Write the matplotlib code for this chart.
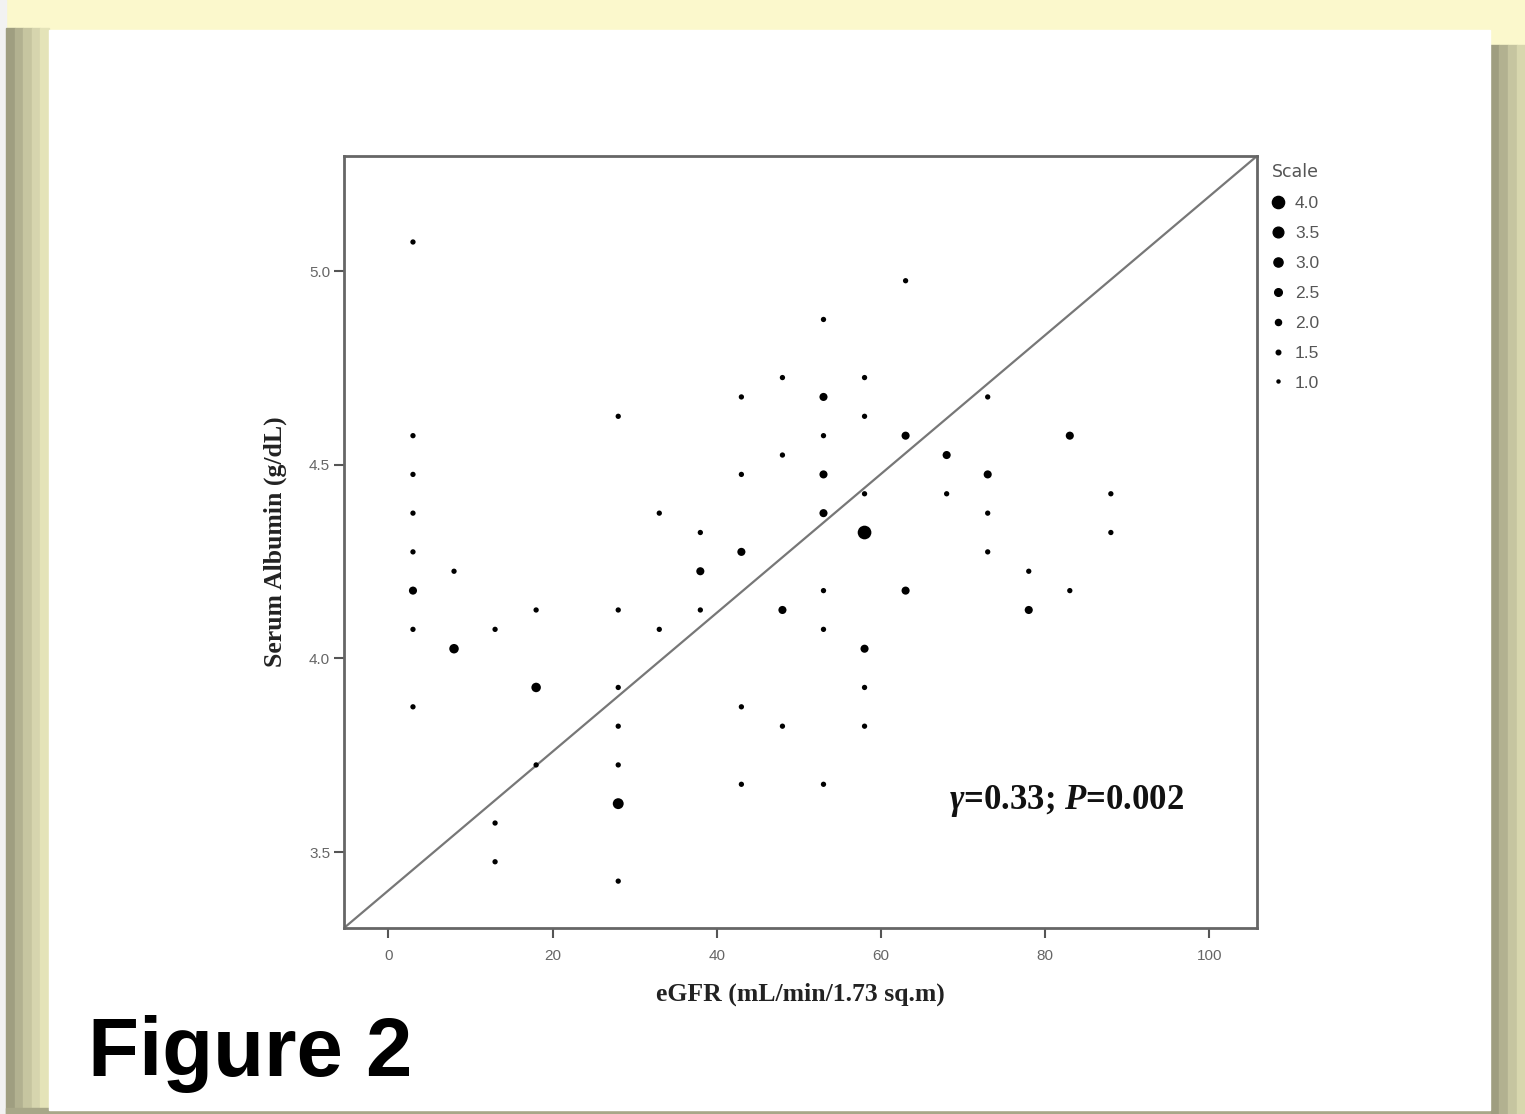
import matplotlib
matplotlib.use("Agg")
import matplotlib.pyplot as plt
from matplotlib.patches import Rectangle
from matplotlib.lines import Line2D

# eGFR (x), serum albumin (y), scale (count) for each dot
egfr = [3, 3, 3, 3, 3, 3, 3, 3,
        8, 8,
        13, 13, 13,
        18, 18, 18,
        28, 28, 28, 28, 28, 28, 28,
        33, 33,
        38, 38, 38,
        43, 43, 43, 43, 43,
        48, 48, 48, 48,
        53, 53, 53, 53, 53, 53, 53, 53,
        58, 58, 58, 58, 58, 58, 58,
        63, 63, 63,
        68, 68,
        73, 73, 73, 73,
        78, 78,
        83, 83,
        88, 88]
albumin = [5.075, 4.575, 4.475, 4.375, 4.275, 4.175, 4.075, 3.875,
           4.225, 4.025,
           4.075, 3.575, 3.475,
           4.125, 3.925, 3.725,
           4.625, 4.125, 3.925, 3.825, 3.725, 3.625, 3.425,
           4.375, 4.075,
           4.325, 4.225, 4.125,
           4.675, 4.475, 4.275, 3.875, 3.675,
           4.725, 4.525, 4.125, 3.825,
           4.875, 4.675, 4.575, 4.475, 4.375, 4.175, 4.075, 3.675,
           4.725, 4.625, 4.425, 4.325, 4.025, 3.925, 3.825,
           4.975, 4.575, 4.175,
           4.525, 4.425,
           4.675, 4.475, 4.375, 4.275,
           4.225, 4.125,
           4.575, 4.175,
           4.425, 4.325]
scale = [1, 1, 1, 1, 1, 2, 1, 1,
         1, 2.5,
         1, 1, 1,
         1, 2.5, 1,
         1, 1, 1, 1, 1, 3, 1,
         1, 1,
         1, 2, 1,
         1, 1, 2, 1, 1,
         1, 1, 2, 1,
         1, 2, 1, 2, 2, 1, 1, 1,
         1, 1, 1, 4, 2, 1, 1,
         1, 2, 2,
         2, 1,
         1, 2, 1, 1,
         1, 2,
         2, 1,
         1, 1]
legend_scale = [4.0, 3.5, 3.0, 2.5, 2.0, 1.5, 1.0]

W, H = 1525, 1114
fig = plt.figure(figsize=(W / 100, H / 100), dpi=100)
fig.patch.set_facecolor("#fbf8cc")


def band(x0, x1, y0, y1, color):
    # rectangle given in pixel coords (top-left origin)
    fig.patches.append(Rectangle((x0 / W, 1 - y1 / H), (x1 - x0) / W, (y1 - y0) / H,
                                 transform=fig.transFigure, color=color, zorder=-5))


# frame around the white panel
band(0, 6, 0, H, "#f2f2f2")
for i, c in enumerate(["#9f9e80", "#b2b190", "#c6c5a0", "#d6d5ae", "#e4e3b8"]):
    band(6 + i * 8.6, 6 + (i + 1) * 8.6, 28, H, c)
for i, c in enumerate(["#9f9e80", "#b2b190", "#c6c5a0", "#d8d7ae"]):
    band(1490 + i * 9, 1490 + (i + 1) * 9, 45, H, c)
band(6, 1490, 1108, H, "#a8a788")
band(49, 1490, 30, 1110, "white")

ax = fig.add_axes([344 / W, 1 - 928 / H, (1257 - 344) / W, (928 - 156) / H])
ax.set_xlim(-5.4, 105.8)
ax.set_ylim(3.304, 5.297)

sizes = [((2.5 + 2.8 * s) * 0.72) ** 2 for s in scale]
ax.scatter(egfr, albumin, s=sizes, c="black", edgecolors="none", zorder=3)

# reference line corner to corner
ax.plot([0, 1], [0, 1], transform=ax.transAxes, color="#777777", lw=1.6, zorder=2)

for sp in ax.spines.values():
    sp.set_color("#666666")
    sp.set_linewidth(2)
ax.set_xticks([0, 20, 40, 60, 80, 100])
ax.set_yticks([3.5, 4.0, 4.5, 5.0])
ax.set_yticklabels(["3.5", "4.0", "4.5", "5.0"])
ax.tick_params(direction="out", length=7, width=1.5, color="#555555",
               labelcolor="#666666", labelsize=11)
ax.tick_params(axis="x", pad=8)
ax.tick_params(axis="y", pad=3)
for lab in ax.get_xticklabels() + ax.get_yticklabels():
    lab.set_family("Liberation Sans")

ax.set_xlabel("eGFR (mL/min/1.73 sq.m)", family="Liberation Serif", weight="bold",
              fontsize=18.5, color="#222222", labelpad=14)
ax.set_ylabel("Serum Albumin (g/dL)", family="Liberation Serif", weight="bold",
              fontsize=18.5, color="#222222", labelpad=16)

plt.rcParams["mathtext.fontset"] = "custom"
plt.rcParams["mathtext.it"] = "Liberation Serif:italic:bold"
plt.rcParams["mathtext.rm"] = "Liberation Serif:bold"
ax.text(0.663, 0.164, r"$\mathit{\gamma}$=0.33; $\mathit{P}$=0.002", transform=ax.transAxes,
        family="Liberation Serif", weight="bold", fontsize=25, va="center", ha="left",
        color="#111111")

# size legend
handles = [Line2D([], [], ls="none", marker="o", color="black",
                  markersize=2.2 * v) for v in legend_scale]
leg = ax.legend(handles, ["%.1f" % v for v in legend_scale], title="Scale",
                loc="upper left", bbox_to_anchor=(1.014, 0.993), frameon=False,
                handlelength=0.8, handletextpad=0.55, labelspacing=0.85,
                borderaxespad=0, borderpad=0.1,
                prop={"family": "Liberation Sans", "size": 12.5})
leg._legend_box.align = "left"
leg.get_title().set_fontsize(12.5)
leg.get_title().set_color("#555555")
for t in leg.get_texts():
    t.set_color("#555555")

fig.text(88 / W, 1 - 1054 / H, "Figure 2", family="Liberation Sans", weight="bold",
         fontsize=60, va="center", ha="left", color="black")

fig.savefig("out.png", dpi=100, facecolor=fig.get_facecolor())
